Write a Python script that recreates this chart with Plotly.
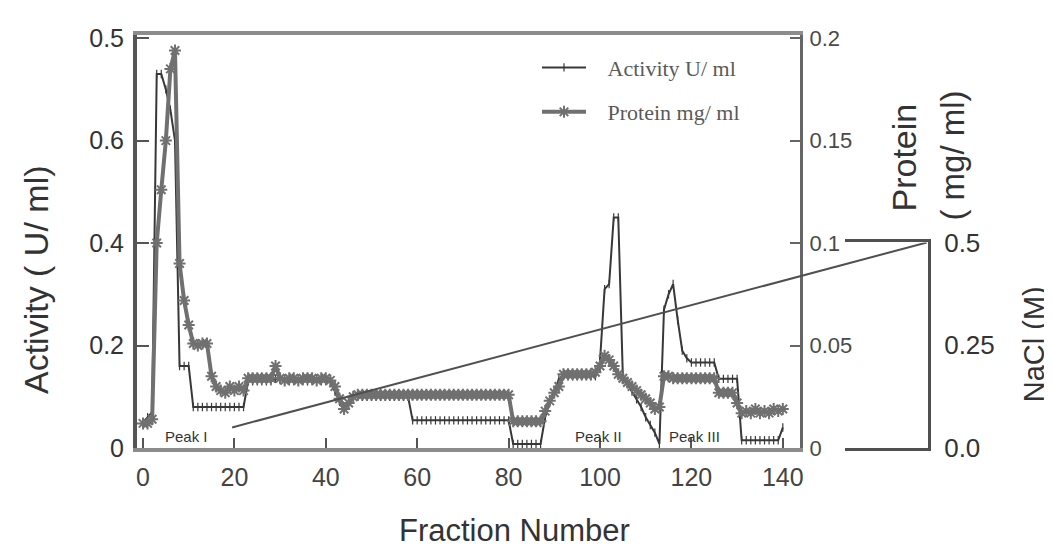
import plotly.graph_objects as go

# ---------------- data ----------------
fractions = list(range(0, 141))

activity = [
    0.05, 0.06, 0.07, 0.73, 0.73, 0.70, 0.66, 0.60, 0.16, 0.16,
    0.16, 0.08, 0.08, 0.08, 0.08, 0.08, 0.08, 0.08, 0.08, 0.08,
    0.08, 0.08, 0.08, 0.13, 0.13, 0.13, 0.13, 0.13, 0.13, 0.135,
    0.135, 0.13, 0.13, 0.13, 0.13, 0.13, 0.13, 0.13, 0.13, 0.13,
    0.13, 0.13, 0.11, 0.09, 0.077, 0.09, 0.10, 0.10, 0.10, 0.10,
    0.10, 0.10, 0.10, 0.10, 0.10, 0.10, 0.10, 0.10, 0.10, 0.054,
    0.054, 0.054, 0.054, 0.054, 0.054, 0.054, 0.054, 0.054, 0.054, 0.054,
    0.054, 0.054, 0.054, 0.054, 0.054, 0.054, 0.054, 0.054, 0.054, 0.054,
    0.054, 0.008, 0.008, 0.008, 0.008, 0.008, 0.008, 0.008, 0.06, 0.09,
    0.11, 0.135, 0.14, 0.14, 0.14, 0.14, 0.14, 0.14, 0.14, 0.14,
    0.17, 0.31, 0.32, 0.45, 0.45, 0.14, 0.125, 0.11, 0.095, 0.08,
    0.06, 0.045, 0.03, 0.008, 0.27, 0.30, 0.32, 0.25, 0.19, 0.175,
    0.167, 0.167, 0.167, 0.167, 0.167, 0.167, 0.135, 0.135, 0.135, 0.135,
    0.135, 0.015, 0.015, 0.015, 0.015, 0.015, 0.015, 0.015, 0.015, 0.015,
    0.04,
]

protein = [
    0.012, 0.012, 0.014, 0.10, 0.126, 0.15, 0.185, 0.194, 0.09, 0.072,
    0.06, 0.051, 0.05, 0.051, 0.051, 0.035, 0.03, 0.028, 0.027, 0.03,
    0.028, 0.03, 0.028, 0.034, 0.034, 0.034, 0.034, 0.034, 0.034, 0.04,
    0.034, 0.033, 0.034, 0.034, 0.033, 0.034, 0.034, 0.034, 0.033, 0.034,
    0.034, 0.033, 0.03, 0.024, 0.019, 0.022, 0.025, 0.026, 0.026, 0.026,
    0.026, 0.026, 0.026, 0.026, 0.026, 0.026, 0.026, 0.026, 0.026, 0.026,
    0.026, 0.026, 0.026, 0.026, 0.026, 0.026, 0.026, 0.026, 0.026, 0.026,
    0.026, 0.026, 0.026, 0.026, 0.026, 0.026, 0.026, 0.026, 0.026, 0.026,
    0.026, 0.013, 0.013, 0.013, 0.013, 0.013, 0.013, 0.013, 0.018, 0.023,
    0.027, 0.03, 0.036, 0.036, 0.036, 0.036, 0.036, 0.036, 0.036, 0.037,
    0.04, 0.045, 0.043, 0.04, 0.036, 0.034, 0.032, 0.03, 0.028, 0.026,
    0.024, 0.022, 0.019, 0.02, 0.035, 0.035, 0.034, 0.034, 0.034, 0.034,
    0.034, 0.034, 0.034, 0.034, 0.034, 0.034, 0.027, 0.027, 0.027, 0.027,
    0.022, 0.017, 0.018, 0.017, 0.019, 0.017, 0.018, 0.017, 0.019, 0.018,
    0.019,
]

nacl_fraction = [19.5, 171.5]
nacl_molar = [0.05, 0.5]

x_tick_vals = [0, 20, 40, 60, 80, 100, 120, 140]
act_tick_vals = [0, 0.2, 0.4, 0.6, 0.8]
act_tick_text = ["0", "0.2", "0.4", "0.6", "0.5"]
prot_tick_vals = [0, 0.05, 0.1, 0.15, 0.2]
prot_tick_text = ["0", "0.05", "0.1", "0.15", "0.2"]
nacl_tick_vals = [0, 0.25, 0.5]
nacl_tick_text = ["0.0", "0.25", "0.5"]

peak_labels = ["Peak I", "Peak II", "Peak III"]
series_names = ["Activity U/ ml", "Protein mg/ ml"]

# ---------------- layout geometry (window pixels) ----------------
W, H = 1052, 553
OFF = 8                                  # page body margin
L, R, T, B = 137, 928, 30, 448          # outer plotting area incl. NaCl axis
MAIN_R = 800                             # protein axis position
X0PX, PPF = 143, 4.57                    # pixel of fraction 0, pixels per fraction
ACT_PPU = 518.5                          # pixels per activity unit


def px(x):
    return (x - L) / (R - L)


def py(y):
    return (B - y) / (B - T)


def frac_at(xpix):
    return (xpix - X0PX) / PPF


act_top = (B - T) / ACT_PPU

FONT = "Liberation Sans, Arial, sans-serif"
TXT = "#333333"
PAD = "\u00a0\u00a0\u00a0"               # gap between legend sample and text

fig = go.Figure()

fig.add_trace(go.Scatter(
    x=fractions, y=activity, name=PAD + series_names[0], mode="lines+markers",
    line=dict(color="#383838", width=2),
    marker=dict(symbol="line-ns-open", size=6, line=dict(width=1.2, color="#383838")),
    xaxis="x", yaxis="y", legend="legend",
))
fig.add_trace(go.Scatter(
    x=fractions, y=protein, name=PAD + series_names[1], mode="lines+markers",
    line=dict(color="#707070", width=4),
    marker=dict(symbol="asterisk-open", size=10, line=dict(width=2, color="#6a6a6a")),
    xaxis="x", yaxis="y2", legend="legend2",
))
fig.add_trace(go.Scatter(
    x=nacl_fraction, y=nacl_molar, mode="lines", showlegend=False,
    line=dict(color="#505050", width=2),
    xaxis="x2", yaxis="y3",
))
# carrier for the little NaCl bracket frame
fig.add_trace(go.Scatter(
    x=[None], y=[None], mode="lines", showlegend=False, hoverinfo="skip",
    xaxis="x3", yaxis="y3",
))

legend_font = dict(family="Liberation Serif, Times New Roman, serif", size=22, color="#5a5a5a")

fig.update_layout(
    width=W - OFF, height=H - OFF,
    margin=dict(l=L - OFF, r=W - R, t=T - OFF, b=H - B, pad=0),
    paper_bgcolor="white", plot_bgcolor="rgba(0,0,0,0)",
    font=dict(family=FONT, color=TXT),
    xaxis=dict(
        domain=[0, px(MAIN_R)], range=[frac_at(L), frac_at(MAIN_R)],
        anchor="y", showgrid=False, zeroline=False,
        showline=True, linecolor="#8c8c8c", linewidth=4, mirror=True,
        ticks="inside", ticklen=10, tickwidth=2, tickcolor="#555",
        tickvals=x_tick_vals, tickfont=dict(size=25, color="#444"),
        ticklabelstandoff=4,
    ),
    yaxis=dict(
        range=[0, act_top], anchor="x", showgrid=False, zeroline=False,
        showline=True, linecolor="#555", linewidth=4,
        ticks="inside", ticklen=12, tickwidth=2, tickcolor="#555",
        tickvals=act_tick_vals, ticktext=act_tick_text,
        tickfont=dict(size=25, color=TXT), ticklabelstandoff=4,
    ),
    yaxis2=dict(
        range=[0, act_top / 4], overlaying="y", side="right", anchor="x",
        showgrid=False, zeroline=False,
        showline=True, linecolor="#666", linewidth=3,
        ticks="inside", ticklen=10, tickwidth=2, tickcolor="#666",
        tickvals=prot_tick_vals, ticktext=prot_tick_text,
        tickfont=dict(size=22, color="#4a4a4a"), ticklabelstandoff=2,
    ),
    xaxis2=dict(
        domain=[0, 1], range=[frac_at(L), frac_at(R)], anchor="y3",
        visible=False,
    ),
    yaxis3=dict(
        domain=[0, py(240)], range=[0, 0.5], anchor="x2", side="right",
        showgrid=False, zeroline=False,
        showline=True, linecolor="#505050", linewidth=3, ticks="",
        tickvals=nacl_tick_vals, ticktext=nacl_tick_text,
        tickfont=dict(size=26, color=TXT), ticklabelstandoff=8,
    ),
    xaxis3=dict(
        domain=[px(845), 1], range=[0, 1], anchor="y3",
        showline=True, mirror=True, linecolor="#505050", linewidth=3,
        showgrid=False, zeroline=False, showticklabels=False, ticks="",
    ),
    legend=dict(
        x=px(537), y=py(63), xanchor="left", yanchor="middle",
        bgcolor="rgba(0,0,0,0)", itemwidth=44, font=legend_font,
    ),
    legend2=dict(
        x=px(537), y=py(108), xanchor="left", yanchor="middle",
        bgcolor="rgba(0,0,0,0)", itemwidth=44, font=legend_font,
    ),
)

ann = []
ann.append(dict(text="Activity ( U/ ml)", x=px(36), y=py(278), textangle=-90,
                font=dict(size=34, color=TXT)))
ann.append(dict(text="Fraction Number", x=px(514), y=py(531),
                font=dict(size=31, color=TXT)))
ann.append(dict(text="Protein", x=px(904), y=py(154), textangle=-90,
                font=dict(size=34, color=TXT)))
ann.append(dict(text="( mg/ ml)", x=px(953), y=py(152), textangle=-90,
                font=dict(size=33, color=TXT)))
ann.append(dict(text="NaCl (M)", x=px(1034), y=py(343), textangle=-90,
                font=dict(size=29, color=TXT)))
peak_px = [(186, 436), (598, 436), (694, 436)]
for label, (ax_, ay_) in zip(peak_labels, peak_px):
    ann.append(dict(text=label, x=px(ax_), y=py(ay_),
                    font=dict(size=15, color=TXT)))
for a in ann:
    a.update(xref="paper", yref="paper", showarrow=False,
             xanchor="center", yanchor="middle")
fig.update_layout(annotations=ann)

fig.write_html("out.html")
